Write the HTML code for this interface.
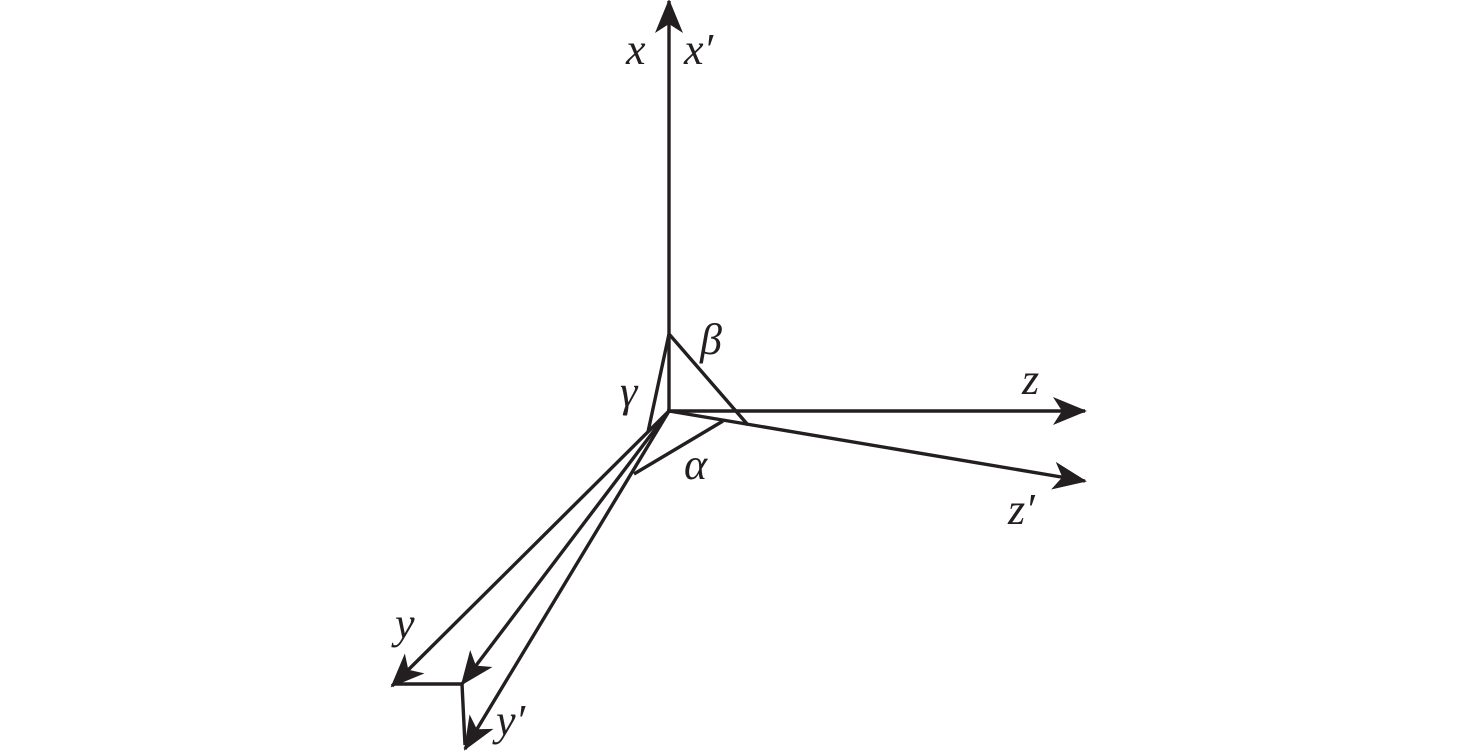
<!DOCTYPE html>
<html><head><meta charset="utf-8"><style>
html,body{margin:0;padding:0;background:#fff;}
svg{display:block}
text{font-family:"Liberation Serif","Times New Roman",serif;font-style:italic;font-size:44px;fill:#231f20}
</style></head><body>
<svg width="1476" height="752" viewBox="0 0 1476 752" xmlns="http://www.w3.org/2000/svg">
<defs>
<marker id="a" viewBox="0 0 34 28" refX="32" refY="14" markerWidth="34" markerHeight="28" markerUnits="userSpaceOnUse" orient="auto">
<path d="M0,0 L34,14 L0,28 L9,14 Z" fill="#231f20"/>
</marker>
</defs>
<g stroke="#231f20" stroke-width="3.4" fill="none" stroke-linejoin="miter">
<line x1="669" y1="413" x2="669" y2="1" marker-end="url(#a)"/>
<line x1="667" y1="411" x2="1085" y2="411" marker-end="url(#a)"/>
<line x1="669" y1="411" x2="1085" y2="481" marker-end="url(#a)"/>
<line x1="669" y1="411" x2="392" y2="686" marker-end="url(#a)"/>
<line x1="669" y1="411" x2="462" y2="684" marker-end="url(#a)"/>
<line x1="669" y1="411" x2="465" y2="749" marker-end="url(#a)"/>
<polyline points="393,684 462,684 465,745"/>
<line x1="669" y1="334" x2="748" y2="425"/>
<line x1="669" y1="334" x2="648" y2="432"/>
<line x1="723" y1="421" x2="634" y2="474"/>
</g>
<text x="626" y="64">x</text>
<text x="684" y="64">x′</text>
<text x="1022" y="394">z</text>
<text x="1008" y="524">z′</text>
<text x="700" y="354">β</text>
<text x="620" y="406">γ</text>
<text x="684" y="479">α</text>
<text x="395" y="638">y</text>
<text x="496" y="735">y′</text>
</svg>
</body></html>
